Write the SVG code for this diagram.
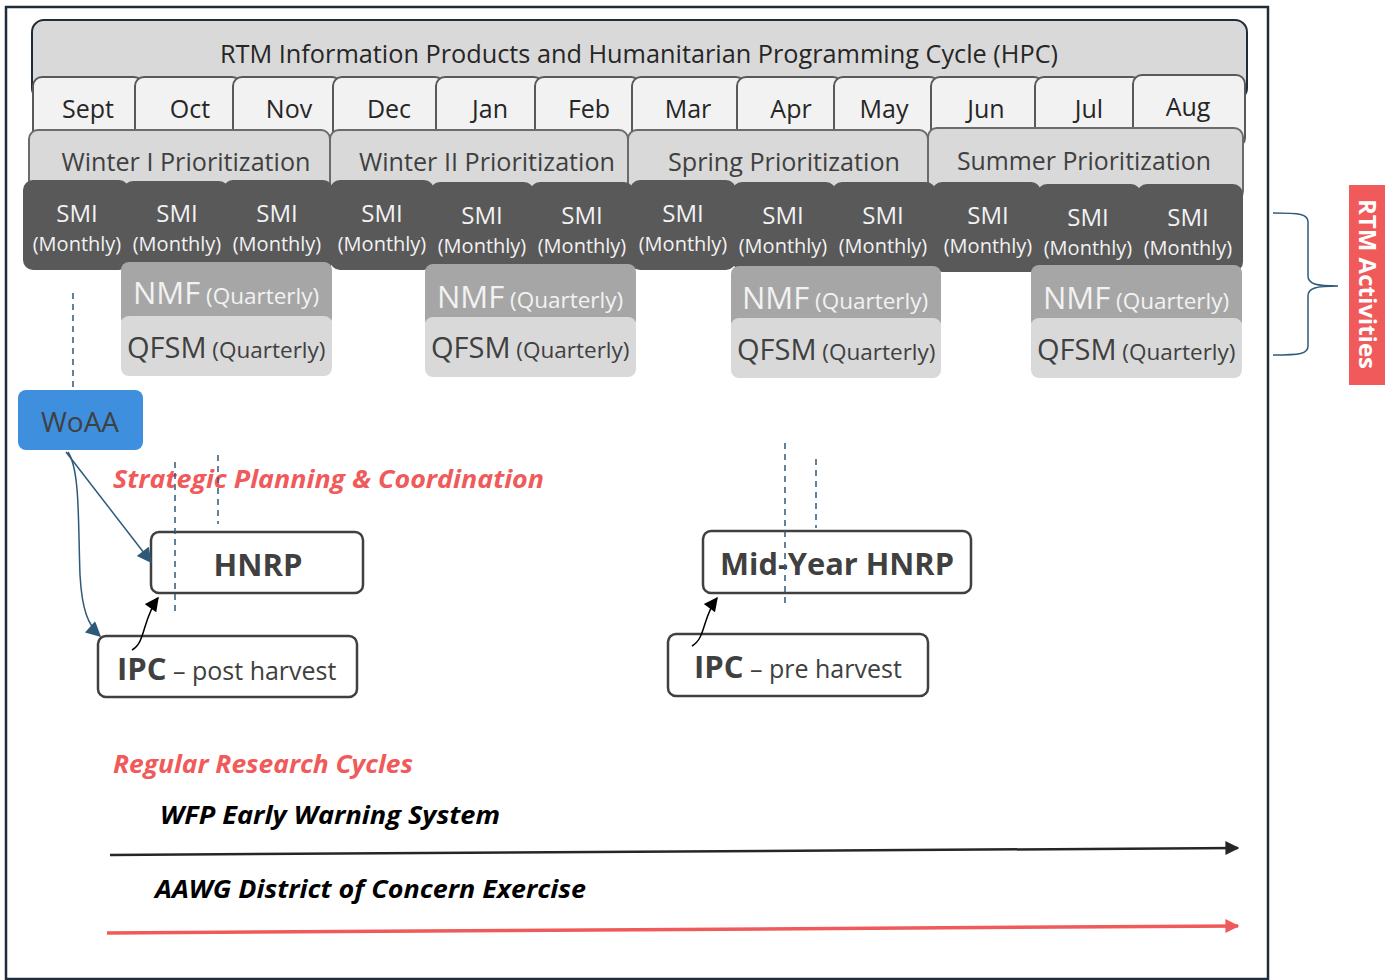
<svg xmlns="http://www.w3.org/2000/svg" width="1394" height="980" viewBox="0 0 1394 980">
<defs>
<marker id="ahBlue" viewBox="0 0 10 10" refX="9" refY="5" markerWidth="17" markerHeight="15" orient="auto" markerUnits="userSpaceOnUse">
<path d="M0,0 L10,5 L0,10 z" fill="#2e5a7a"/>
</marker>
<marker id="ahBlack" viewBox="0 0 10 10" refX="9" refY="5" markerWidth="16" markerHeight="14" orient="auto" markerUnits="userSpaceOnUse">
<path d="M0,0 L10,5 L0,10 z" fill="#000"/>
</marker>
<marker id="ahLineBlack" viewBox="0 0 10 10" refX="9" refY="5" markerWidth="14" markerHeight="15" orient="auto" markerUnits="userSpaceOnUse">
<path d="M0,0 L10,5 L0,10 z" fill="#262626"/>
</marker>
<marker id="ahLineRed" viewBox="0 0 10 10" refX="9" refY="5" markerWidth="14" markerHeight="15" orient="auto" markerUnits="userSpaceOnUse">
<path d="M0,0 L10,5 L0,10 z" fill="#f05a5a"/>
</marker>
</defs>
<style>
text{font-family:"Open Sans","Noto Sans","DejaVu Sans",sans-serif;}
.month{fill:#f2f2f2;stroke:#595959;stroke-width:2;}
.prio{fill:#d9d9d9;stroke:#6b6b6b;stroke-width:2;}
.smi{fill:#595959;}
.nmf{fill:#a6a6a6;}
.qfsm{fill:#d9d9d9;}
.mt{font-size:25px;fill:#262626;text-anchor:middle;}
.pt{font-size:25px;fill:#404040;text-anchor:middle;}
.s1{font-size:24px;fill:#f2f2f2;text-anchor:middle;}
.s2{font-size:20px;fill:#f2f2f2;text-anchor:middle;}
.nt{fill:#f2f2f2;}
.qt{fill:#404040;}
.box{fill:#fff;stroke:#404040;stroke-width:2.5;}
.bt{font-weight:bold;fill:#404040;}
.dash{stroke:#2e5a7a;stroke-width:1.5;stroke-dasharray:6,5;fill:none;}
.red{font-weight:bold;font-style:italic;fill:#f05a5a;font-size:25px;}
.blk{font-weight:bold;font-style:italic;fill:#000;font-size:25px;}
</style>
<rect x="0" y="0" width="1394" height="980" fill="#fff"/>
<rect x="6" y="7" width="1262" height="972" fill="none" stroke="#1f2d3a" stroke-width="2.5"/>

<g id="header">
<rect x="32" y="20" width="1215" height="80" rx="12" fill="#d9d9d9" stroke="#1f2d3a" stroke-width="2"/>
<text x="639" y="63" font-size="26" fill="#262626" text-anchor="middle" textLength="838" lengthAdjust="spacingAndGlyphs">RTM Information Products and Humanitarian Programming Cycle (HPC)</text>
</g>

<g id="months">
<rect class="month" x="33" y="77" width="110" height="70" rx="9"/>
<rect class="month" x="135" y="77" width="106" height="70" rx="9"/>
<rect class="month" x="233" y="77" width="108" height="70" rx="9"/>
<rect class="month" x="333" y="77" width="111" height="70" rx="9"/>
<rect class="month" x="436" y="77" width="107" height="70" rx="9"/>
<rect class="month" x="535" y="77" width="105" height="70" rx="9"/>
<rect class="month" x="632" y="77" width="113" height="70" rx="9"/>
<rect class="month" x="737" y="77" width="105" height="70" rx="9"/>
<rect class="month" x="834" y="77" width="105" height="70" rx="9"/>
<rect class="month" x="931" y="77" width="112" height="70" rx="9"/>
<rect class="month" x="1035" y="77" width="106" height="70" rx="9"/>
<rect class="month" x="1133" y="75" width="112" height="72" rx="9"/>
<text class="mt" x="88" y="118">Sept</text>
<text class="mt" x="190" y="118">Oct</text>
<text class="mt" x="289" y="118">Nov</text>
<text class="mt" x="389" y="118">Dec</text>
<text class="mt" x="490" y="118">Jan</text>
<text class="mt" x="589" y="118">Feb</text>
<text class="mt" x="688" y="118">Mar</text>
<text class="mt" x="791" y="118">Apr</text>
<text class="mt" x="884" y="118">May</text>
<text class="mt" x="986" y="118">Jun</text>
<text class="mt" x="1089" y="118">Jul</text>
<text class="mt" x="1188" y="116">Aug</text>
</g>

<g id="prioritization">
<rect class="prio" x="29" y="130" width="301" height="70" rx="9"/>
<rect class="prio" x="330" y="130" width="298" height="70" rx="9"/>
<rect class="prio" x="628" y="130" width="300" height="70" rx="9"/>
<rect class="prio" x="928" y="128" width="315" height="72" rx="9"/>
<text class="pt" x="186" y="171" textLength="249" lengthAdjust="spacingAndGlyphs">Winter I Prioritization</text>
<text class="pt" x="487" y="171" textLength="256" lengthAdjust="spacingAndGlyphs">Winter II Prioritization</text>
<text class="pt" x="784" y="171" textLength="232" lengthAdjust="spacingAndGlyphs">Spring Prioritization</text>
<text class="pt" x="1084" y="170" textLength="254" lengthAdjust="spacingAndGlyphs">Summer Prioritization</text>
</g>

<g id="smi">
<rect class="smi" x="23" y="180" width="106" height="90" rx="10"/>
<rect class="smi" x="123" y="181" width="106" height="89" rx="10"/>
<rect class="smi" x="223" y="180" width="110" height="90" rx="10"/>
<rect class="smi" x="330" y="180" width="104" height="90" rx="10"/>
<rect class="smi" x="430" y="182" width="104" height="88" rx="10"/>
<rect class="smi" x="530" y="182" width="104" height="88" rx="10"/>
<rect class="smi" x="630" y="180" width="106" height="90" rx="10"/>
<rect class="smi" x="732" y="182" width="104" height="88" rx="10"/>
<rect class="smi" x="832" y="182" width="104" height="88" rx="10"/>
<rect class="smi" x="932" y="182" width="109" height="90" rx="10"/>
<rect class="smi" x="1037" y="184" width="104" height="88" rx="10"/>
<rect class="smi" x="1137" y="184" width="106" height="88" rx="10"/>
<text class="s1" x="77" y="222">SMI</text><text class="s2" x="77" y="251">(Monthly)</text>
<text class="s1" x="177" y="222">SMI</text><text class="s2" x="177" y="251">(Monthly)</text>
<text class="s1" x="277" y="222">SMI</text><text class="s2" x="277" y="251">(Monthly)</text>
<text class="s1" x="382" y="222">SMI</text><text class="s2" x="382" y="251">(Monthly)</text>
<text class="s1" x="482" y="224">SMI</text><text class="s2" x="482" y="253">(Monthly)</text>
<text class="s1" x="582" y="224">SMI</text><text class="s2" x="582" y="253">(Monthly)</text>
<text class="s1" x="683" y="222">SMI</text><text class="s2" x="683" y="251">(Monthly)</text>
<text class="s1" x="783" y="224">SMI</text><text class="s2" x="783" y="253">(Monthly)</text>
<text class="s1" x="883" y="224">SMI</text><text class="s2" x="883" y="253">(Monthly)</text>
<text class="s1" x="988" y="224">SMI</text><text class="s2" x="988" y="253">(Monthly)</text>
<text class="s1" x="1088" y="226">SMI</text><text class="s2" x="1088" y="255">(Monthly)</text>
<text class="s1" x="1188" y="226">SMI</text><text class="s2" x="1188" y="255">(Monthly)</text>
</g>

<g id="nmf">
<rect class="nmf" x="121" y="262" width="211" height="64" rx="8"/>
<rect class="nmf" x="425" y="264" width="211" height="64" rx="8"/>
<rect class="nmf" x="731" y="266" width="210" height="64" rx="8"/>
<rect class="nmf" x="1031" y="265" width="211" height="64" rx="8"/>
<text class="nt" x="133" y="304"><tspan font-size="31">NMF</tspan><tspan font-size="22.5"> (Quarterly)</tspan></text>
<text class="nt" x="437" y="308"><tspan font-size="31">NMF</tspan><tspan font-size="22.5"> (Quarterly)</tspan></text>
<text class="nt" x="742" y="309"><tspan font-size="31">NMF</tspan><tspan font-size="22.5"> (Quarterly)</tspan></text>
<text class="nt" x="1043" y="309"><tspan font-size="31">NMF</tspan><tspan font-size="22.5"> (Quarterly)</tspan></text>
</g>

<g id="qfsm">
<rect class="qfsm" x="121" y="316" width="211" height="60" rx="8"/>
<rect class="qfsm" x="425" y="317" width="211" height="60" rx="8"/>
<rect class="qfsm" x="731" y="318" width="210" height="60" rx="8"/>
<rect class="qfsm" x="1031" y="318" width="211" height="60" rx="8"/>
<text class="qt" x="127" y="358"><tspan font-size="29">QFSM</tspan><tspan font-size="22.5"> (Quarterly)</tspan></text>
<text class="qt" x="431" y="358"><tspan font-size="29">QFSM</tspan><tspan font-size="22.5"> (Quarterly)</tspan></text>
<text class="qt" x="737" y="360"><tspan font-size="29">QFSM</tspan><tspan font-size="22.5"> (Quarterly)</tspan></text>
<text class="qt" x="1037" y="360"><tspan font-size="29">QFSM</tspan><tspan font-size="22.5"> (Quarterly)</tspan></text>
</g>

<g id="rtm-activities">
<path d="M1273,213 C1300,213 1308,214 1308,222 L1308,276 C1308,284 1316,286 1338,286 C1316,286 1308,288 1308,296 L1308,346 C1308,354 1300,355 1273,355" fill="none" stroke="#2e5a7a" stroke-width="1.5"/>
<rect x="1349" y="185" width="36" height="200" fill="#f05a5a"/>
<text x="0" y="0" transform="translate(1359,284) rotate(90)" font-size="24" font-weight="bold" fill="#fff" text-anchor="middle">RTM Activities</text>
</g>

<g id="woaa">
<rect x="18" y="390" width="125" height="60" rx="8" fill="#3f8fdf"/>
<text x="80" y="432" font-size="28" fill="#404040" text-anchor="middle">WoAA</text>
</g>

<g id="labels">
<text class="red" x="113" y="488" textLength="431" lengthAdjust="spacingAndGlyphs">Strategic Planning &amp; Coordination</text>
<text class="red" x="113" y="773" textLength="300" lengthAdjust="spacingAndGlyphs">Regular Research Cycles</text>
<text class="blk" x="160" y="824" textLength="340" lengthAdjust="spacingAndGlyphs">WFP Early Warning System</text>
<text class="blk" x="155" y="898" textLength="431" lengthAdjust="spacingAndGlyphs">AAWG District of Concern Exercise</text>
</g>

<g id="hnrp">
<rect class="box" x="151" y="532" width="212" height="61" rx="8"/>
<text class="bt" x="258" y="576" font-size="31" text-anchor="middle">HNRP</text>
</g>

<g id="ipc-post">
<rect class="box" x="98" y="636" width="259" height="61" rx="8"/>
<text x="117" y="680" fill="#404040"><tspan font-size="31" font-weight="bold">IPC</tspan><tspan font-size="25"> – post harvest</tspan></text>
</g>

<g id="midyear-hnrp">
<rect class="box" x="703" y="531" width="268" height="62" rx="8"/>
<text class="bt" x="837" y="575" font-size="31" text-anchor="middle" textLength="234" lengthAdjust="spacingAndGlyphs">Mid-Year HNRP</text>
</g>

<g id="ipc-pre">
<rect class="box" x="668" y="634" width="260" height="62" rx="8"/>
<text x="694" y="678" fill="#404040"><tspan font-size="31" font-weight="bold">IPC</tspan><tspan font-size="25"> – pre harvest</tspan></text>
</g>

<g id="connectors">
<line class="dash" x1="73" y1="293" x2="73" y2="390"/>
<line class="dash" x1="175" y1="462" x2="175" y2="612"/>
<line class="dash" x1="218" y1="455" x2="218" y2="524"/>
<line class="dash" x1="785" y1="443" x2="785" y2="605"/>
<line class="dash" x1="816" y1="459" x2="816" y2="528"/>
<path d="M66,452 L151,562" fill="none" stroke="#2e5a7a" stroke-width="1.5" marker-end="url(#ahBlue)"/>
<path d="M68,452 C80,470 78,520 80,575 C82,610 88,625 100,636" fill="none" stroke="#2e5a7a" stroke-width="1.5" marker-end="url(#ahBlue)"/>
<path d="M132,650 C146,642 142,620 158,598" fill="none" stroke="#000" stroke-width="1.5" marker-end="url(#ahBlack)"/>
<path d="M692,646 C706,638 702,618 717,598" fill="none" stroke="#000" stroke-width="1.5" marker-end="url(#ahBlack)"/>
<path d="M110,855 L1238,848" fill="none" stroke="#262626" stroke-width="2.5" marker-end="url(#ahLineBlack)"/>
<path d="M107,933 L1238,926" fill="none" stroke="#f05a5a" stroke-width="3.5" marker-end="url(#ahLineRed)"/>
</g>
</svg>
